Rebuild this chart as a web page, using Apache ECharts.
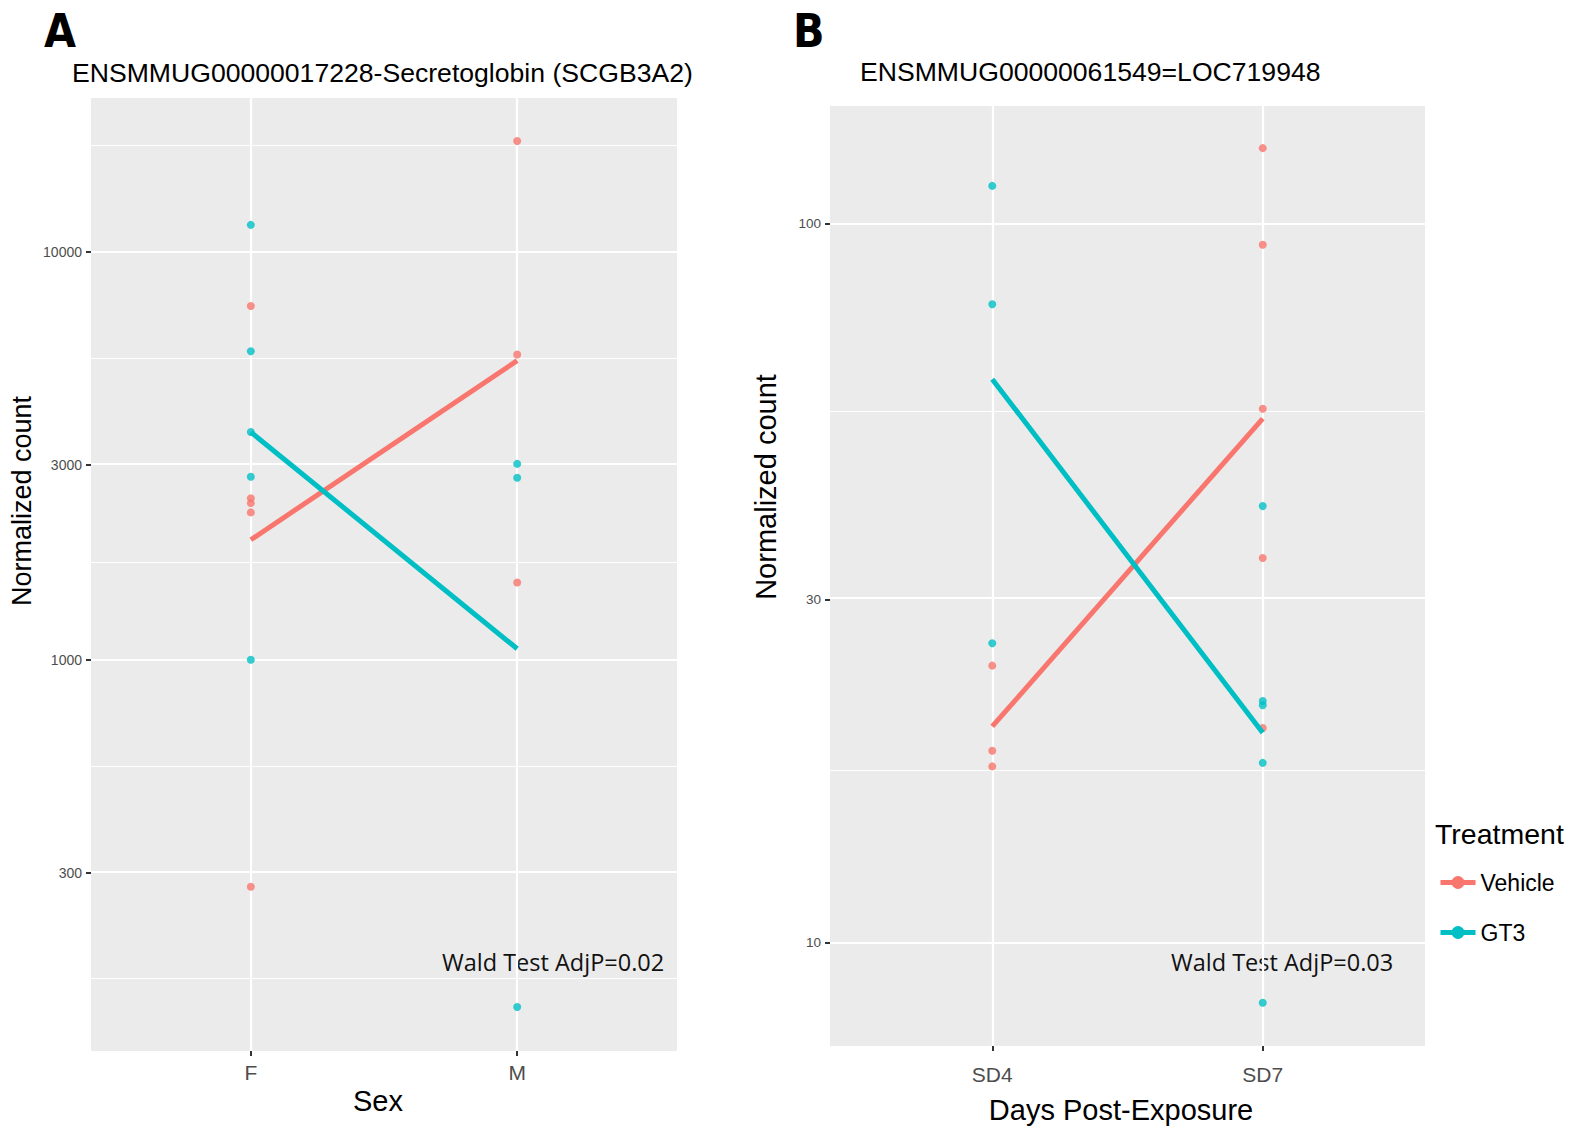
<!DOCTYPE html>
<html><head><meta charset="utf-8">
<script src="https://cdn.jsdelivr.net/npm/echarts@6/dist/echarts.min.js"></script>
<style>html,body{margin:0;padding:0;background:#fff}#chart{width:1580px;height:1128px}</style>
</head><body><div id="chart"></div>
<script>
// ---------- categories ----------
const sexCategories = ['F', 'M'];
const dayCategories = ['SD4', 'SD7'];
const treatments = ['Vehicle', 'GT3'];

// ---------- Panel A: ENSMMUG00000017228 ----------
const vehicleF = [7361, 2489, 2420, 2297, 278];
const gt3F = [11634, 5701, 3614, 2810, 1000];
const vehicleM = [18670, 5598, 1546];
const gt3M = [3020, 2793, 141];
const vehicleMeanA = [1968, 5408];   // F, M
const gt3MeanA = [3614, 1064];       // F, M
const yTicksA = [300, 1000, 3000, 10000];
const yMinorA = [164.3, 547.7, 1732, 5477, 18260];
const yRangeA = [110, 23800];

// ---------- Panel B: ENSMMUG00000061549 ----------
const vehicleSD4 = [24.3, 18.5, 17.6];
const gt3SD4 = [112.9, 77.3, 26.1];
const vehicleSD7 = [127.4, 93.5, 55.3, 34.3, 19.9];
const gt3SD7 = [40.5, 21.7, 21.4, 17.8, 8.26];
const vehicleMeanB = [20.0, 53.6];   // SD4, SD7
const gt3MeanB = [60.8, 19.6];       // SD4, SD7
const yTicksB = [10, 30, 100];
const yMinorB = [17.32, 54.77];
const yRangeB = [7.19, 145.8];

const titleA = 'ENSMMUG00000017228-Secretoglobin (SCGB3A2)';
const titleB = 'ENSMMUG00000061549=LOC719948';
const waldA = 'Wald Test AdjP=0.02';
const waldB = 'Wald Test AdjP=0.03';

// ---------- styling ----------
const RED = '#F8766D', CYAN = '#00BFC4';
const FONT = "'Liberation Sans', Arial, Helvetica, sans-serif";
const L = Math.log10;

function pts(groups) { // groups: [[values for cat1],[values for cat2]]
  const out = [];
  groups.forEach((vals, i) => vals.forEach(v => out.push([i + 1, L(v)])));
  return out;
}
function meanPts(vals) { return vals.map((v, i) => [i + 1, L(v)]); }

function gridLines(majors, minors) {
  const d = [];
  majors.forEach(v => d.push({ yAxis: L(v), lineStyle: { width: 2.2 } }));
  minors.forEach(v => d.push({ yAxis: L(v), lineStyle: { width: 1.1 } }));
  d.push({ xAxis: 1, lineStyle: { width: 2.2 } });
  d.push({ xAxis: 2, lineStyle: { width: 2.2 } });
  return {
    silent: true, symbol: ['none', 'none'], z: 1, animation: false,
    label: { show: false }, lineStyle: { color: '#FFFFFF', type: 'solid' },
    emphasis: { disabled: true }, data: d
  };
}

function xAxisDef(idx, cats, margin) {
  return {
    gridIndex: idx, type: 'value', min: 0.4, max: 2.6,
    axisLine: { show: false }, splitLine: { show: false },
    axisTick: { show: true, length: 5, customValues: [1, 2], lineStyle: { color: '#333333', width: 2 } },
    axisLabel: { show: true, customValues: [1, 2], margin: margin, fontSize: 21, color: '#4D4D4D', fontFamily: FONT,
      formatter: v => cats[Math.round(v) - 1] }
  };
}
function yAxisDef(idx, ticks, range, fs) {
  return {
    gridIndex: idx, type: 'value', min: L(range[0]), max: L(range[1]),
    axisLine: { show: false }, splitLine: { show: false },
    axisTick: { show: true, length: 5, customValues: ticks.map(L), lineStyle: { color: '#333333', width: 2 } },
    axisLabel: { show: true, customValues: ticks.map(L), margin: 9, fontSize: fs, color: '#4D4D4D', fontFamily: FONT,
      formatter: v => String(Math.round(Math.pow(10, v))) }
  };
}

function scatter(name, idx, data, color, withGrid) {
  const s = {
    name: name, type: 'scatter', xAxisIndex: idx, yAxisIndex: idx, z: 10,
    symbol: 'circle', symbolSize: 8, itemStyle: { color: color }, data: data,
    emphasis: { disabled: true }
  };
  if (withGrid) s.markLine = withGrid;
  return s;
}
function meanLine(name, idx, data, color) {
  return {
    name: name, type: 'line', xAxisIndex: idx, yAxisIndex: idx, z: 12,
    symbol: 'none', showSymbol: false, color: color,
    lineStyle: { color: color, width: 5, cap: 'butt' }, itemStyle: { color: color },
    data: data, emphasis: { disabled: true }
  };
}

const chart = echarts.init(document.getElementById('chart'), null, { renderer: 'svg', width: 1580, height: 1128 });

const textBase = (t, x, y, size, extra) => ({
  type: 'text', x: x, y: y, silent: true,
  style: Object.assign({ text: t, font: size + 'px ' + FONT, fill: '#000000',
    textAlign: 'left', align: 'left', textVerticalAlign: 'middle', verticalAlign: 'middle' }, extra || {})
});

const option = {
  animation: false,
  backgroundColor: '#FFFFFF',
  grid: [
    { left: 91, top: 98, width: 586, height: 953, show: true, backgroundColor: '#EBEBEB', borderWidth: 0 },
    { left: 830, top: 106, width: 595, height: 940, show: true, backgroundColor: '#EBEBEB', borderWidth: 0 }
  ],
  xAxis: [xAxisDef(0, sexCategories, 11), xAxisDef(1, dayCategories, 18)],
  yAxis: [yAxisDef(0, yTicksA, yRangeA, 14), yAxisDef(1, yTicksB, yRangeB, 13.5)],
  legend: {
    data: treatments, orient: 'vertical', left: 1438, top: 871,
    itemWidth: 35, itemHeight: 16, itemGap: 27, padding: 0,
    lineStyle: { width: 5 },
    textStyle: { fontSize: 23, color: '#000000', fontFamily: FONT },
    selectedMode: false
  },
  series: [
    meanLine(treatments[0], 0, meanPts(vehicleMeanA), RED),
    meanLine(treatments[1], 0, meanPts(gt3MeanA), CYAN),
    scatter(treatments[0], 0, pts([vehicleF, vehicleM]), RED, gridLines(yTicksA, yMinorA)),
    scatter(treatments[1], 0, pts([gt3F, gt3M]), CYAN),
    meanLine(treatments[0], 1, meanPts(vehicleMeanB), RED),
    meanLine(treatments[1], 1, meanPts(gt3MeanB), CYAN),
    scatter(treatments[0], 1, pts([vehicleSD4, vehicleSD7]), RED, gridLines(yTicksB, yMinorB)),
    scatter(treatments[1], 1, pts([gt3SD4, gt3SD7]), CYAN)
  ],
  graphic: [
    { type: 'text', x: 44, y: 31, silent: true, style: { text: 'A', font: "bold 46px 'Liberation Sans Narrow', 'DejaVu Sans Condensed', sans-serif", fill: '#000', textAlign: 'left', align: 'left', textVerticalAlign: 'middle', verticalAlign: 'middle' } },
    { type: 'text', x: 793, y: 31, silent: true, style: { text: 'B', font: "bold 46px 'Liberation Sans Narrow', 'DejaVu Sans Condensed', sans-serif", fill: '#000', textAlign: 'left', align: 'left', textVerticalAlign: 'middle', verticalAlign: 'middle' } },
    textBase(titleA, 72, 73, 26.6),
    textBase(titleB, 860, 72, 26.6),
    textBase('Sex', 378, 1101, 29, { textAlign: 'center', align: 'center' }),
    textBase('Days Post-Exposure', 1121, 1110, 29, { textAlign: 'center', align: 'center' }),
    Object.assign(textBase('Normalized count', 22, 501, 27, { textAlign: 'center', align: 'center' }), { rotation: Math.PI / 2 }),
    Object.assign(textBase('Normalized count', 766, 487, 29, { textAlign: 'center', align: 'center' }), { rotation: Math.PI / 2 }),
    textBase(waldA, 442, 962, 23.5, { font: "23.5px 'Open Sans', sans-serif", fill: '#111111' }),
    textBase(waldB, 1171, 962, 23.5, { font: "23.5px 'Open Sans', sans-serif", fill: '#111111' }),
    textBase('Treatment', 1435, 834, 28.5)
  ]
};
chart.setOption(option);
</script>
</body></html>
